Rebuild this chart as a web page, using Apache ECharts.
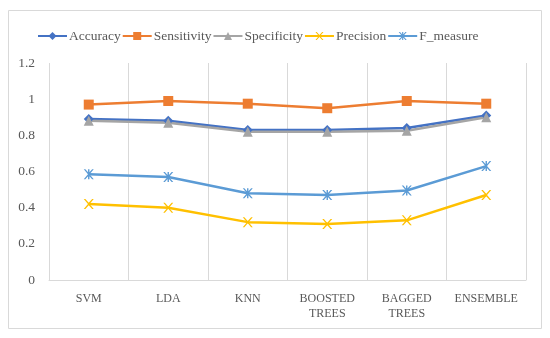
<!DOCTYPE html>
<html><head><meta charset="utf-8">
<script src="https://cdn.jsdelivr.net/npm/echarts@6/dist/echarts.min.js"></script>
<style>html,body{margin:0;padding:0;background:#fff}#c{width:550px;height:338px}</style>
</head><body><div id="c"></div>
<script>
const categories = ['SVM', 'LDA', 'KNN', 'BOOSTED\nTREES', 'BAGGED\nTREES', 'ENSEMBLE'];
const accuracy = [0.89, 0.88, 0.83, 0.83, 0.84, 0.91];
const sensitivity = [0.97, 0.99, 0.975, 0.95, 0.99, 0.975];
const specificity = [0.88, 0.87, 0.82, 0.82, 0.825, 0.90];
const precision = [0.42, 0.40, 0.32, 0.31, 0.33, 0.47];
const fMeasure = [0.585, 0.57, 0.48, 0.47, 0.495, 0.63];
const yTicks = [0, 0.2, 0.4, 0.6, 0.8, 1, 1.2];

const xPath = 'path://M0,0 L1.6,0 L5,3.8 L8.4,0 L10,0 L5.8,5 L10,10 L8.4,10 L5,6.2 L1.6,10 L0,10 L4.2,5 Z';
const starPath = 'path://M0,0 L1.6,0 L5,3.8 L8.4,0 L10,0 L5.8,5 L10,10 L8.4,10 L5,6.2 L1.6,10 L0,10 L4.2,5 Z M4.3,0 L5.7,0 L5.7,10 L4.3,10 Z';

const font = '"Liberation Serif", "DejaVu Serif", serif';
function mk(name, data, color, symbol, size) {
  return {
    name, type: 'line', data, symbol, symbolSize: size,
    lineStyle: {color, width: 2.5}, itemStyle: {color},
    emphasis: {disabled: true}
  };
}
const chart = echarts.init(document.getElementById('c'), null, {renderer: 'canvas'});
chart.setOption({
  animation: false,
  textStyle: {fontFamily: font},
  graphic: [{type: 'rect', shape: {x: 8.5, y: 10.5, width: 533, height: 318}, style: {fill: 'none', stroke: '#d9d9d9', lineWidth: 1}}],
  legend: {
    top: 24, left: 32, itemWidth: 29, itemHeight: 10, itemGap: 1,
    textStyle: {fontFamily: font, fontSize: 13.5, color: '#595959', padding: [0, 0, 0, -3]},
    data: ['Accuracy', 'Sensitivity', 'Specificity', 'Precision', 'F_measure']
  },
  grid: {left: 49, right: 24, top: 63, bottom: 58},
  xAxis: {
    type: 'category', data: categories, boundaryGap: true,
    axisLine: {lineStyle: {color: '#d9d9d9', width: 1}},
    axisTick: {show: false},
    splitLine: {show: true, lineStyle: {color: '#d9d9d9', width: 1}},
    axisLabel: {fontFamily: font, fontSize: 12, color: '#595959', margin: 11, lineHeight: 15, interval: 0}
  },
  yAxis: {
    type: 'value', min: 0, max: 1.2, interval: 0.2,
    axisLine: {show: false}, axisTick: {show: false},
    splitLine: {show: false},
    axisLabel: {fontFamily: font, fontSize: 13.5, color: '#595959', margin: 14,
      formatter: v => { const t = yTicks.find(x => Math.abs(x - v) < 1e-9); return t === undefined ? '' : String(t); }}
  },
  series: [
    mk('Accuracy', accuracy, '#4472C4', 'diamond', 10),
    mk('Sensitivity', sensitivity, '#ED7D31', 'rect', 10),
    mk('Specificity', specificity, '#A5A5A5', 'triangle', 10),
    mk('Precision', precision, '#FFC000', xPath, 10),
    mk('F_measure', fMeasure, '#5B9BD5', starPath, 10)
  ]
});
</script></body></html>
